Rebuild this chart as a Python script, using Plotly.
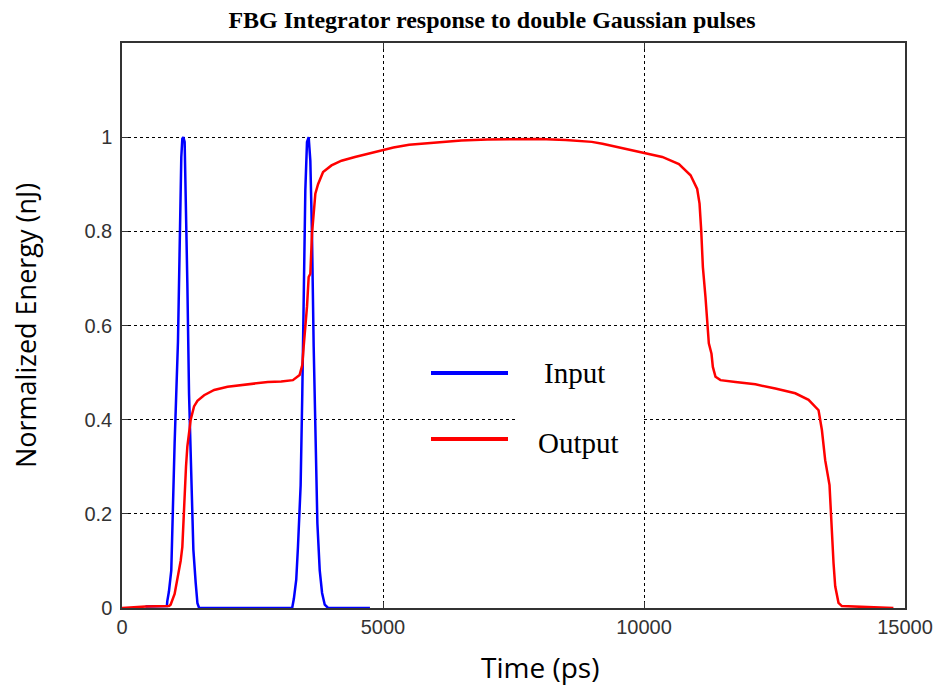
import plotly.graph_objects as go

# Input (double Gaussian pulses)
t_in = [450, 860, 867, 899, 944, 963, 1008, 1072, 1104, 1124, 1136, 1156, 1175, 1200,
        1220, 1252, 1284, 1329, 1367, 1412, 1445, 1477, 3260, 3293, 3338, 3371, 3422,
        3454, 3480, 3512, 3544, 3576, 3608, 3640, 3672, 3704, 3743, 3788, 3833, 3884,
        3948, 4750]
v_in = [0.003, 0.004, 0.014, 0.035, 0.08, 0.18, 0.35, 0.565, 0.795, 0.887, 0.958, 0.997,
        1.0, 0.99, 0.887, 0.69, 0.456, 0.258, 0.124, 0.053, 0.01, 0.0, 0.0, 0.02, 0.06,
        0.13, 0.26, 0.456, 0.69, 0.887, 0.99, 1.0, 0.95, 0.79, 0.555, 0.343, 0.18, 0.08,
        0.032, 0.007, 0.0, 0.0]

# Output (FBG integrator)
t_out = [0, 450, 900, 931, 1008, 1072, 1124, 1156, 1175, 1200, 1226, 1252, 1316, 1380,
         1445, 1573, 1766, 2022, 2279, 2536, 2793, 3050, 3274, 3403, 3454, 3480, 3512,
         3544, 3576, 3608, 3640, 3672, 3704, 3756, 3788, 3852, 4013, 4205, 4462, 4719,
         4976, 5200, 5500, 6000, 6500, 7000, 7500, 8000, 8500, 9000, 9204, 9586, 10000,
         10350, 10669, 10892, 11019, 11064, 11096, 11128, 11178, 11210, 11242, 11293,
         11319, 11370, 11465, 11752, 12134, 12516, 12898, 13153, 13344, 13408, 13471,
         13554, 13599, 13631, 13663, 13726, 13790, 14778]
v_out = [0.0, 0.003, 0.004, 0.007, 0.03, 0.067, 0.1, 0.13, 0.187, 0.244, 0.3, 0.343, 0.4,
         0.428, 0.44, 0.452, 0.463, 0.47, 0.473, 0.477, 0.48, 0.481, 0.484, 0.495, 0.516,
         0.555, 0.594, 0.64, 0.703, 0.71, 0.795, 0.837, 0.88, 0.9, 0.908, 0.926, 0.94,
         0.95, 0.958, 0.965, 0.972, 0.978, 0.984, 0.989, 0.993, 0.995, 0.996, 0.996,
         0.994, 0.99, 0.986, 0.977, 0.967, 0.958, 0.943, 0.919, 0.89, 0.859, 0.802,
         0.724, 0.66, 0.604, 0.562, 0.54, 0.512, 0.491, 0.484, 0.48, 0.475, 0.466, 0.456,
         0.442, 0.42, 0.378, 0.314, 0.261, 0.152, 0.095, 0.046, 0.011, 0.004, 0.0]

x_ticks = [0, 5000, 10000, 15000]
y_ticks = [0, 0.2, 0.4, 0.6, 0.8, 1]
y_tick_labels = ["0", "0.2", "0.4", "0.6", "0.8", "1"]

fig = go.Figure()
fig.add_trace(go.Scatter(x=t_in, y=v_in, mode="lines", name="Input",
                         line=dict(color="#0000ff", width=2.5), showlegend=False))
fig.add_trace(go.Scatter(x=t_out, y=v_out, mode="lines", name="Output",
                         line=dict(color="#ff0000", width=2.5), showlegend=False))

axis_common = dict(
    showline=True, linecolor="#333333", linewidth=1.5, mirror="ticks",
    ticks="inside", ticklen=6, tickcolor="#333333",
    showgrid=True, gridcolor="#000000", gridwidth=1, griddash="3px,3px",
    zeroline=False, automargin=False,
    tickfont=dict(family="Liberation Sans, Arial", size=20, color="#333333"),
)

fig.update_xaxes(range=[0, 15000], tickvals=x_ticks, ticktext=[str(v) for v in x_ticks],
                 ticklabelstandoff=0, **axis_common)
fig.update_yaxes(range=[0, 1.2], tickvals=y_ticks, ticktext=y_tick_labels,
                 ticklabelstandoff=4, **axis_common)

W, H = 936, 689
L, R, T, B = 122, 31, 43, 81
pw, ph = W - L - R, H - T - B

def px(x):
    return (x - L) / pw

def py(y):
    return 1 - (y - T) / ph

shapes = [
    # white patch behind legend text
    dict(type="rect", xref="paper", yref="paper", x0=px(516), x1=px(643), y0=py(473), y1=py(343),
         fillcolor="white", line=dict(width=0), layer="above"),
    dict(type="line", xref="paper", yref="paper", x0=px(431), x1=px(508), y0=py(373), y1=py(373),
         line=dict(color="#0000ff", width=4), layer="above"),
    dict(type="line", xref="paper", yref="paper", x0=px(431), x1=px(508), y0=py(439), y1=py(439),
         line=dict(color="#ff0000", width=4), layer="above"),
]

annotations = [
    dict(text="Input", xref="paper", yref="paper", x=px(542), y=py(373), xanchor="left",
         yanchor="middle", showarrow=False,
         font=dict(family="Liberation Serif, Times New Roman", size=29, color="black")),
    dict(text="Output", xref="paper", yref="paper", x=px(536), y=py(443), xanchor="left",
         yanchor="middle", showarrow=False,
         font=dict(family="Liberation Serif, Times New Roman", size=29, color="black")),
    dict(text="Time (ps)", xref="paper", yref="paper", x=px(540), y=py(667), xanchor="center",
         yanchor="middle", showarrow=False,
         font=dict(family="Open Sans, Liberation Sans", size=28, color="black")),
    dict(text="Normalized Energy (nJ)", xref="paper", yref="paper", x=px(25), y=py(326),
         xanchor="center", yanchor="middle", textangle=-90, showarrow=False,
         font=dict(family="Open Sans, Liberation Sans", size=27, color="black")),
]

fig.update_layout(
    width=W, height=H, autosize=False,
    margin=dict(l=L, r=R, t=T, b=B, pad=0),
    paper_bgcolor="white", plot_bgcolor="white",
    title=dict(text="<b>FBG Integrator response to double Gaussian pulses</b>",
               x=492 / W, xref="container", xanchor="center",
               y=1 - 20 / H, yref="container", yanchor="middle",
               font=dict(family="Liberation Serif, Times New Roman", size=24, color="black")),
    shapes=shapes,
    annotations=annotations,
)

fig.write_html(
    "out.html",
    config={"displayModeBar": False, "responsive": False},
    post_script="document.body.style.margin='0';document.body.style.overflow='hidden';",
)
